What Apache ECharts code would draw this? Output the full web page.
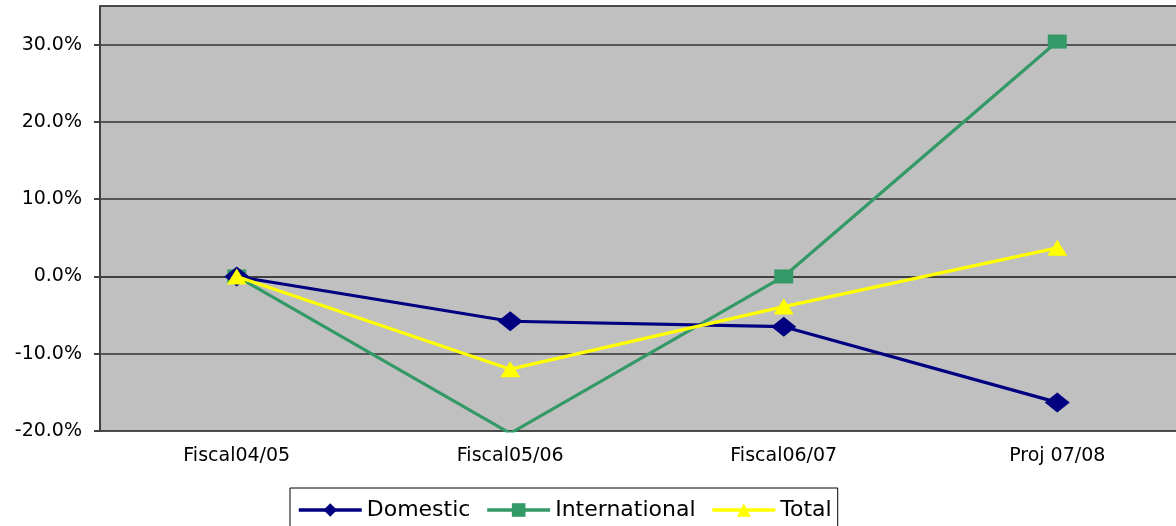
<!DOCTYPE html>
<html><head><meta charset="utf-8">
<script src="https://cdn.jsdelivr.net/npm/echarts@6/dist/echarts.min.js"></script>
<style>html,body{margin:0;padding:0;background:#fff;overflow:hidden;width:1176px;height:526px}#c{width:1194px;height:526px}</style>
</head><body><div id="c"></div>
<script>
const categories = ['Fiscal04/05', 'Fiscal05/06', 'Fiscal06/07', 'Proj 07/08'];
const domestic = [0, -5.8, -6.5, -16.3];
const international = [0, -20.3, 0, 30.4];
const total = [0, -12.0, -3.9, 3.7];
const yTicks = [-20, -10, 0, 10, 20, 30];

const chart = echarts.init(document.getElementById('c'));
const font = 'DejaVu Sans, Arial, sans-serif';
chart.setOption({
  animation: false,
  grid: {left: 100, right: 0, top: 6, bottom: 95, show: true, backgroundColor: '#C0C0C0', borderColor: '#404040', borderWidth: 1},
  xAxis: {
    type: 'category', data: categories, boundaryGap: true,
    axisLine: {lineStyle: {color: '#404040', width: 2}},
    axisTick: {show: false},
    axisLabel: {color: '#000', fontFamily: font, fontSize: 19, margin: 16}
  },
  yAxis: {
    type: 'value', min: yTicks[0], max: 35, interval: 10,
    axisLine: {show: true, lineStyle: {color: '#404040', width: 2}},
    axisTick: {show: true, length: 6, lineStyle: {color: '#404040', width: 2}},
    axisLabel: {color: '#000', fontFamily: font, fontSize: 19, margin: 18, showMaxLabel: false,
      formatter: v => yTicks.includes(v) ? v.toFixed(1) + '%' : ''},
    splitLine: {lineStyle: {color: '#333', width: 1.5}}
  },
  legend: {
    left: 290, top: 488,
    backgroundColor: '#fff', borderColor: '#000', borderWidth: 1,
    padding: [11, 6, 12, 7], itemGap: 15, itemWidth: 63, itemHeight: 17,
    lineStyle: {width: 3.5},
    textStyle: {color: '#000', fontFamily: font, fontSize: 22},
    data: ['Domestic', 'International', 'Total']
  },
  series: [
    {name: 'Domestic', type: 'line', data: domestic, color: '#000080', symbol: 'diamond', symbolSize: [25, 20],
      lineStyle: {width: 3.2}, z: 3},
    {name: 'International', type: 'line', data: international, color: '#339966', symbol: 'rect', symbolSize: [19, 14],
      lineStyle: {width: 3.2}, z: 2},
    {name: 'Total', type: 'line', data: total, color: '#FFFF00', symbol: 'triangle', symbolSize: [20, 16],
      lineStyle: {width: 3.2}, z: 4}
  ]
});
</script></body></html>
